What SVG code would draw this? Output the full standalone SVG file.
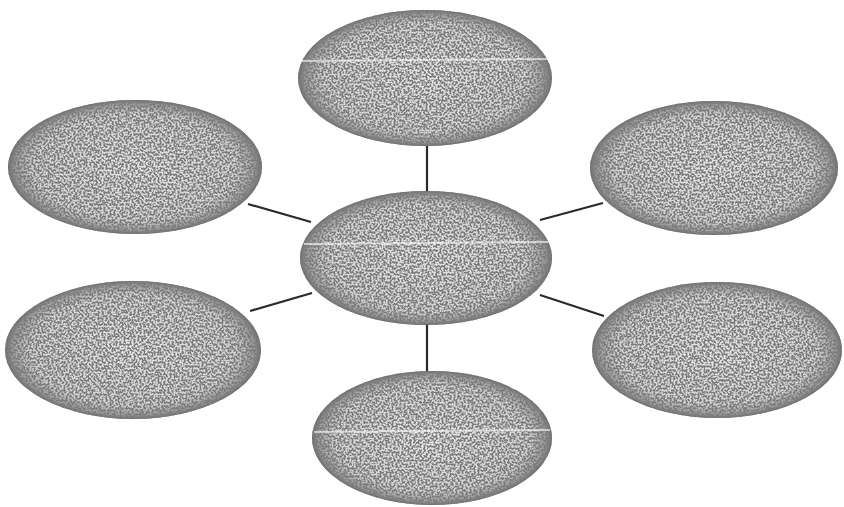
<svg xmlns="http://www.w3.org/2000/svg" width="844" height="507" viewBox="0 0 844 507">
<style>
.bubble{fill:url(#shade);filter:url(#speckle);}
.gap{stroke:#ffffff;stroke-width:2;opacity:0.6;fill:none;}
.conn line{stroke:#2a2a2a;stroke-width:2.2;}
</style>
<defs>
<radialGradient id="shade" cx="50%" cy="50%" r="50%">
<stop offset="0" stop-color="#e4e4e4"/>
<stop offset="0.8" stop-color="#d2d2d2"/>
<stop offset="0.95" stop-color="#989898"/>
<stop offset="1" stop-color="#666666"/>
</radialGradient>
<filter id="speckle" x="0" y="0" width="100%" height="100%">
<feTurbulence type="fractalNoise" baseFrequency="0.5" numOctaves="2" seed="7" result="n"/>
<feColorMatrix in="n" type="matrix" values="0 0 0 0 0.2  0 0 0 0 0.2  0 0 0 0 0.2  -10 0 0 0 5.6" result="dots"/>
<feComposite in="dots" in2="SourceAlpha" operator="in" result="d2"/>
<feMerge><feMergeNode in="SourceGraphic"/><feMergeNode in="d2"/></feMerge>
</filter>
</defs>
<rect width="844" height="507" fill="#ffffff"/>
<g id="connectors" class="conn">
<line x1="427" y1="145" x2="427" y2="191"/>
<line x1="427" y1="324" x2="427" y2="373"/>
<line x1="248" y1="204" x2="311" y2="222"/>
<line x1="250" y1="311" x2="312" y2="293"/>
<line x1="540" y1="220" x2="603" y2="203"/>
<line x1="540" y1="295" x2="604" y2="316"/>
</g>
<g id="node-top"><ellipse class="bubble" cx="425" cy="78" rx="127" ry="68"/><line class="gap" x1="302" y1="61" x2="548" y2="59"/></g>
<g id="node-center"><ellipse class="bubble" cx="426" cy="258" rx="126" ry="67"/><line class="gap" x1="304" y1="244" x2="548" y2="242"/></g>
<g id="node-bottom"><ellipse class="bubble" cx="432" cy="438" rx="120" ry="67"/><line class="gap" x1="314" y1="432" x2="550" y2="430"/></g>
<g id="node-upper-left"><ellipse class="bubble" cx="135" cy="167" rx="127" ry="67"/></g>
<g id="node-lower-left"><ellipse class="bubble" cx="133" cy="350" rx="128" ry="69"/></g>
<g id="node-upper-right"><ellipse class="bubble" cx="714" cy="168" rx="124" ry="67"/></g>
<g id="node-lower-right"><ellipse class="bubble" cx="717" cy="350" rx="125" ry="68"/></g>
</svg>
